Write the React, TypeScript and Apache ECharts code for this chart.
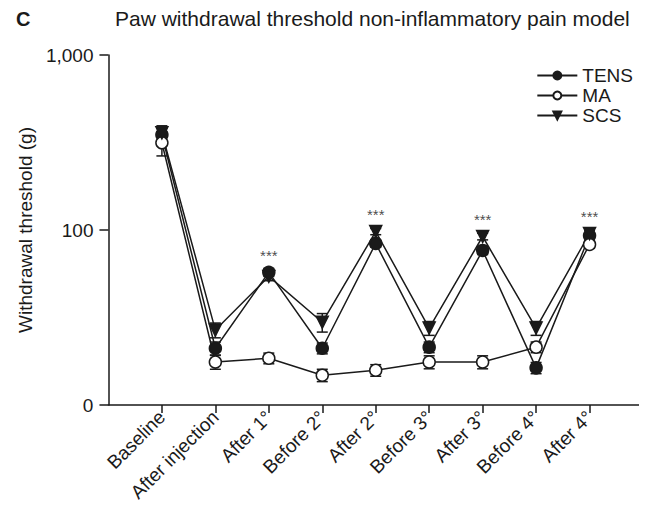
import React, { useEffect, useRef } from "react";
import * as echarts from "echarts";

const categories = ["Baseline", "After injection", "After 1°", "Before 2°", "After 2°", "Before 3°", "After 3°", "Before 4°", "After 4°"];
const tens = [350, 21.1, 57.3, 21.1, 83.8, 21.4, 76.4, 16.3, 93];
const tensErr = [30, 1.8, 3, 1.5, 4, 1.5, 4, 1.2, 4];
const ma = [315, 17.6, 18.5, 14.8, 15.8, 17.6, 17.6, 21.4, 82.7];
const maErr = [50, 1.6, 1.3, 1.2, 1.2, 1.5, 1.5, 1.5, 4];
const scs = [359, 26.8, 54.3, 29.7, 98, 27.5, 91.8, 27.5, 95.5];
const scsErr = [35, 2.6, 3, 3.6, 4, 2.5, 4, 2.5, 4];
const starIdx = [2, 4, 6, 8];

const INK = "#1a1a1a";
const FONT = "Liberation Sans, Arial, sans-serif";

export default function App() {
  const ref = useRef<HTMLDivElement>(null);
  useEffect(() => {
    const chart = echarts.init(ref.current!, null, { renderer: "svg" });
    const cats = ["", ...categories, ""];
    const pts = (arr: number[]) => arr.map((v, i) => [i + 1, v]);
    const errs = (arr: number[], e: number[]) => arr.map((v, i) => [i + 1, v - e[i], v + e[i]]);
    const errSeries = (name: string, arr: number[], e: number[]) => ({
      type: "custom",
      name: name + "-err",
      data: errs(arr, e),
      z: 3,
      silent: true,
      renderItem: (params: any, api: any) => {
        const x = api.value(0);
        const pLo = api.coord([x, api.value(1)]);
        const pHi = api.coord([x, api.value(2)]);
        const hw = 5.5;
        const st = { stroke: INK, lineWidth: 1.5 };
        return {
          type: "group",
          children: [
            { type: "line", shape: { x1: pLo[0], y1: pLo[1], x2: pHi[0], y2: pHi[1] }, style: st },
            { type: "line", shape: { x1: pLo[0] - hw, y1: pLo[1], x2: pLo[0] + hw, y2: pLo[1] }, style: st },
            { type: "line", shape: { x1: pHi[0] - hw, y1: pHi[1], x2: pHi[0] + hw, y2: pHi[1] }, style: st },
          ],
        };
      },
    });
    const lineSeries = (name: string, arr: number[], symbol: string, fill: string, rotate = 0, size = 11) => ({
      type: "line",
      name,
      data: pts(arr),
      symbol,
      symbolSize: size,
      symbolRotate: rotate,
      showAllSymbol: true,
      z: 5,
      lineStyle: { color: INK, width: 1.5 },
      itemStyle: { color: fill, borderColor: INK, borderWidth: 1.5 },
    });
    chart.setOption({
      animation: false,
      backgroundColor: "#fff",
      textStyle: { fontFamily: FONT, color: INK },
      title: [
        { text: "C", left: 3, top: -4, textStyle: { fontSize: 20, fontWeight: "bold", color: INK, fontFamily: FONT } },
        {
          text: "Paw withdrawal threshold non-inflammatory pain model",
          left: 102,
          top: -5,
          textStyle: { fontSize: 21, fontWeight: "normal", color: INK, fontFamily: FONT },
        },
      ],
      legend: {
        orient: "vertical",
        right: 17,
        top: 53,
        itemWidth: 40,
        itemHeight: 10,
        itemGap: 1,
        textStyle: { fontSize: 19, color: INK, fontFamily: FONT },
        data: ["TENS", "MA", "SCS"],
      },
      grid: { left: 96, right: 12, top: 47, bottom: 124, containLabel: false },
      xAxis: {
        type: "category",
        data: cats,
        boundaryGap: false,
        axisLine: { lineStyle: { color: INK, width: 1.5 } },
        axisTick: { interval: (i: number) => i > 0 && i < cats.length - 1, length: 8, lineStyle: { color: INK, width: 1.5 } },
        axisLabel: { interval: 0, rotate: 45, fontSize: 19, color: INK, fontFamily: FONT, margin: 9 },
        splitLine: { show: false },
      },
      yAxis: {
        type: "log",
        logBase: 10,
        min: 10,
        max: 1000,
        name: "Withdrawal threshold (g)",
        nameLocation: "middle",
        nameGap: 70,
        nameRotate: 90,
        nameTextStyle: { fontSize: 19, color: INK, fontFamily: FONT },
        axisLine: { show: true, lineStyle: { color: INK, width: 1.5 } },
        axisTick: { show: true, length: 9, lineStyle: { color: INK, width: 1.5 } },
        axisLabel: {
          fontSize: 19,
          color: INK,
          fontFamily: FONT,
          margin: 15,
          formatter: (v: number) => (Math.abs(v - 10) < 0.01 ? "0" : Math.abs(v - 1000) < 0.5 ? "1,000" : String(Math.round(v))),
        },
        splitLine: { show: false },
        minorTick: { show: false },
      },
      series: [
        errSeries("TENS", tens, tensErr),
        errSeries("MA", ma, maErr),
        errSeries("SCS", scs, scsErr),
        lineSeries("TENS", tens, "circle", INK, 0, 12),
        lineSeries("MA", ma, "circle", "#fff", 0, 12),
        lineSeries("SCS", scs, "triangle", INK, 180, 12),
        {
          type: "scatter",
          name: "stars",
          data: starIdx.map((i) => [i + 1, Math.max(tens[i], scs[i], ma[i])]),
          symbolSize: 1,
          itemStyle: { color: "rgba(0,0,0,0)" },
          silent: true,
          z: 6,
          label: { show: true, position: "top", distance: 9, formatter: "***", fontSize: 15, color: INK, fontFamily: FONT },
        },
      ],
    });
    return () => chart.dispose();
  }, []);
  return <div ref={ref} style={{ width: 647, height: 521 }} />;
}
